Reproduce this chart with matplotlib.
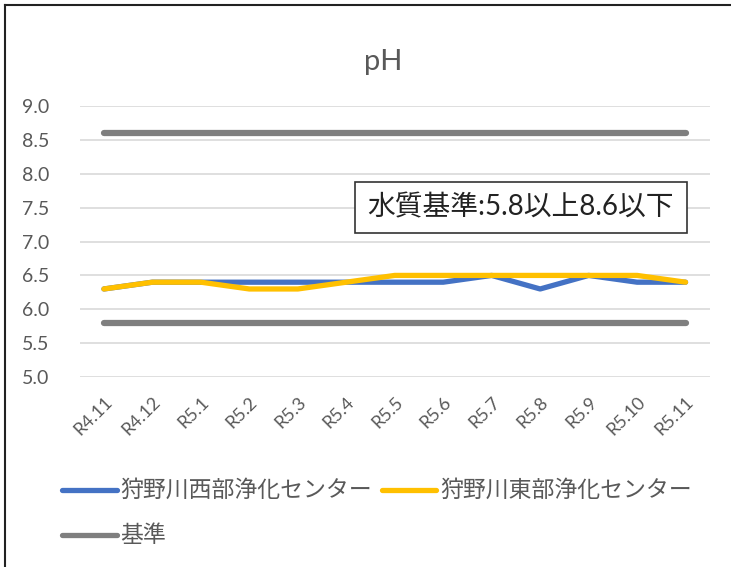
import matplotlib.pyplot as plt
from matplotlib.lines import Line2D

plt.rcParams['font.family'] = ['Lato', 'Noto Sans CJK JP', 'DejaVu Sans']

months = ['R4.11', 'R4.12', 'R5.1', 'R5.2', 'R5.3', 'R5.4', 'R5.5',
          'R5.6', 'R5.7', 'R5.8', 'R5.9', 'R5.10', 'R5.11']
west = [6.3, 6.4, 6.4, 6.4, 6.4, 6.4, 6.4, 6.4, 6.5, 6.3, 6.5, 6.4, 6.4]
east = [6.3, 6.4, 6.4, 6.3, 6.3, 6.4, 6.5, 6.5, 6.5, 6.5, 6.5, 6.5, 6.4]
upper = 8.6
lower = 5.8

fig = plt.figure(figsize=(7.31, 5.67), dpi=100)
ax = fig.add_axes([0.109, 0.335, 0.862, 0.478])

x = range(len(months))
gray = '#7f7f7f'
ax.plot(x, [upper] * len(months), color=gray, lw=4.5, solid_capstyle='round', zorder=3)
ax.plot(x, [lower] * len(months), color=gray, lw=4.5, solid_capstyle='round', zorder=3)
ax.plot(x, west, color='#4472c4', lw=3.8, solid_capstyle='round', zorder=4)
ax.plot(x, east, color='#ffc000', lw=3.8, solid_capstyle='round', zorder=5)

ax.set_xlim(-0.5, len(months) - 0.5)
ax.set_ylim(5.0, 9.0)
ax.set_yticks([5.0 + 0.5 * i for i in range(9)])
ax.set_yticklabels(['%.1f' % (5.0 + 0.5 * i) for i in range(9)], fontsize=14, color='#595959')
ax.set_xticks(list(x))
ax.set_xticklabels(months, rotation=45, ha='right', rotation_mode='anchor',
                   fontsize=13, color='#595959')
ax.tick_params(axis='y', length=0, pad=22)
ax.tick_params(axis='x', length=0, pad=12)
ax.grid(axis='y', color='#d9d9d9', lw=1.2)
ax.set_axisbelow(True)
for s in ax.spines.values():
    s.set_visible(False)

fig.text(0.524, 0.89, 'pH', ha='center', va='center', fontsize=21, color='#595959')

ax.text(8.6, 7.5, '水質基準:5.8以上8.6以下', ha='center', va='center', fontsize=20,
        color='#222222', zorder=6,
        bbox=dict(boxstyle='square,pad=0.45', fc='white', ec='#333333', lw=1.2))

# legend
def leg(xf, yf, color, label):
    fig.add_artist(Line2D([xf, xf + 0.075], [yf, yf], color=color, lw=3.8,
                          solid_capstyle='round', transform=fig.transFigure))
    fig.text(xf + 0.08, yf, label, ha='left', va='center', fontsize=16.5, color='#595959')

leg(0.085, 0.136, '#4472c4', '狩野川西部浄化センター')
leg(0.522, 0.136, '#ffc000', '狩野川東部浄化センター')
leg(0.085, 0.056, gray, '基準')

# outer frame (top and left)
fig.add_artist(Line2D([0.007, 1.0], [0.991, 0.991], color='#222222', lw=1.5,
                      transform=fig.transFigure))
fig.add_artist(Line2D([0.007, 0.007], [0.0, 0.991], color='#222222', lw=1.5,
                      transform=fig.transFigure))

fig.savefig('out.png', dpi=100)
